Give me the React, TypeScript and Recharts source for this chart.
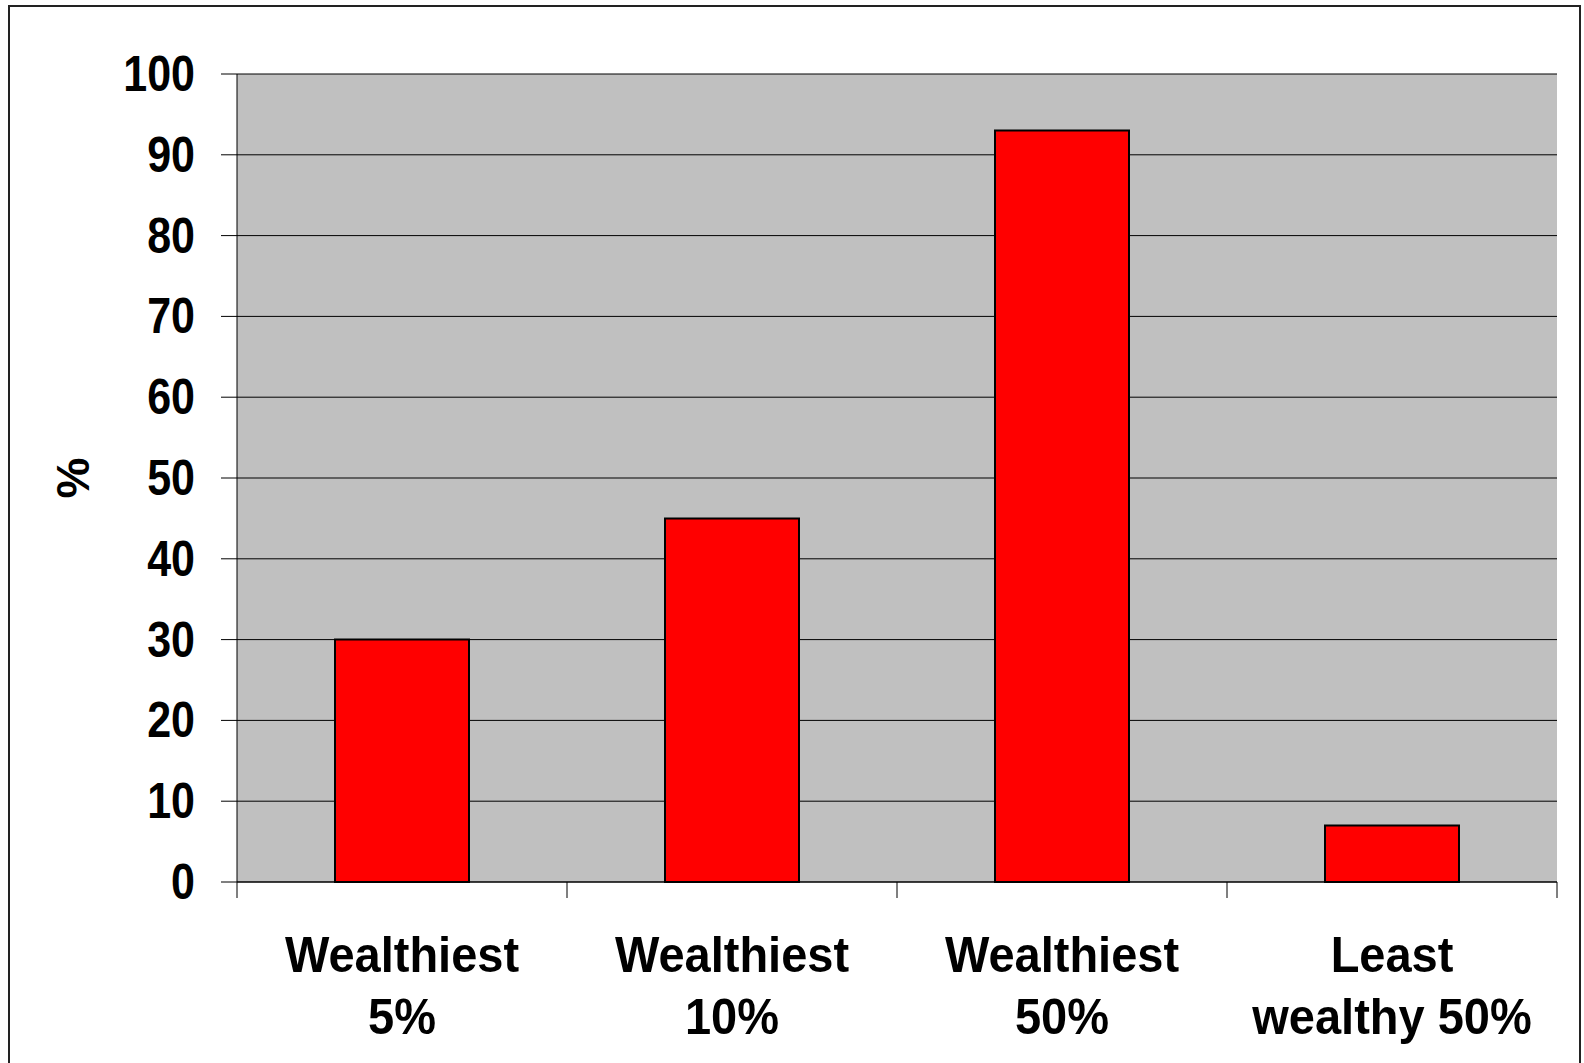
import { Bar, BarChart, CartesianGrid, XAxis, YAxis } from "recharts"

const categories = ["Wealthiest 5%", "Wealthiest 10%", "Wealthiest 50%", "Least wealthy 50%"]
const labelLines = [
  ["Wealthiest", "5%"],
  ["Wealthiest", "10%"],
  ["Wealthiest", "50%"],
  ["Least", "wealthy 50%"],
]
const shares = [30, 45, 93, 7]
const yTicks = [0, 10, 20, 30, 40, 50, 60, 70, 80, 90, 100]

const data = categories.map((name, i) => ({ name, value: shares[i] }))

const FONT = '"Liberation Sans", Arial, sans-serif'

// two-line label plus the tick marks that sit between the categories
function CategoryTick(props: any) {
  const { x, y, index, payload, width, visibleTicksCount } = props
  const lines = labelLines[index] || []
  const half = payload?.offset || width / (2 * (visibleTicksCount || categories.length))
  const isLast = index === categories.length - 1
  return (
    <g>
      <line x1={x - half} x2={x - half} y1={y} y2={y + 16} stroke="#000" strokeWidth={1} />
      {isLast && <line x1={x + half} x2={x + half} y1={y} y2={y + 16} stroke="#000" strokeWidth={1} />}
      {lines.map((line, i) => {
        const by = y + 90 + i * 62
        return (
          <text
            key={i}
            x={x}
            y={by}
            transform={`translate(0 ${by}) scale(1 1.05) translate(0 ${-by})`}
            textAnchor="middle"
            fontFamily={FONT}
            fontWeight="bold"
            fontSize={47}
            fill="#000"
          >
            {line}
          </text>
        )
      })}
    </g>
  )
}

function ValueTick(props: any) {
  const { x, y, payload } = props
  return (
    <text
      x={x}
      y={y}
      transform={`translate(0 ${y}) scale(1 1.14) translate(0 ${-y})`}
      textAnchor="end"
      dominantBaseline="central"
      fontFamily={FONT}
      fontWeight="bold"
      fontSize={43}
      fill="#000"
    >
      {payload.value}
    </text>
  )
}

function PercentLabel(props: any) {
  const { viewBox } = props
  const cx = viewBox.x + 73
  const cy = viewBox.y + viewBox.height / 2
  return (
    <text
      x={cx}
      y={cy}
      transform={`rotate(-90 ${cx} ${cy})`}
      textAnchor="middle"
      dominantBaseline="central"
      fontFamily={FONT}
      fontWeight="bold"
      fontSize={46}
      fill="#000"
    >
      %
    </text>
  )
}

export default function App() {
  return (
    <div style={{ position: "absolute", left: 0, top: 0, width: 1584, height: 1063, background: "#fff", overflow: "hidden" }}>
      <div
        style={{
          position: "absolute",
          left: 8,
          top: 5,
          width: 1573,
          height: 1080,
          border: "2px solid #222",
          boxSizing: "border-box",
        }}
      />
      <div style={{ position: "absolute", left: 0, top: 0 }}>
        <BarChart
          width={1584}
          height={1063}
          data={data}
          margin={{ top: 74, right: 27, bottom: 0, left: 0 }}
        >
          <CartesianGrid vertical={false} fill="#C0C0C0" stroke="#000" strokeWidth={1} />
          <XAxis
            dataKey="name"
            tick={<CategoryTick />}
            tickLine={false}
            tickSize={0}
            tickMargin={0}
            axisLine={{ stroke: "#000", strokeWidth: 1 }}
            height={181}
            interval={0}
          />
          <YAxis
            domain={[0, 100]}
            ticks={yTicks}
            width={237}
            tickSize={16}
            tickMargin={26}
            axisLine={{ stroke: "#000", strokeWidth: 1 }}
            tickLine={{ stroke: "#000", strokeWidth: 1 }}
            tick={<ValueTick />}
            label={<PercentLabel />}
          />
          <YAxis
            yAxisId="right"
            orientation="right"
            domain={[0, 100]}
            width={0}
            tick={false}
            tickLine={false}
            axisLine={{ stroke: "#808080", strokeWidth: 1 }}
          />
          <Bar
            dataKey="value"
            fill="#FF0000"
            stroke="#000"
            strokeWidth={2}
            barSize={134}
            isAnimationActive={false}
          />
        </BarChart>
      </div>
    </div>
  )
}
